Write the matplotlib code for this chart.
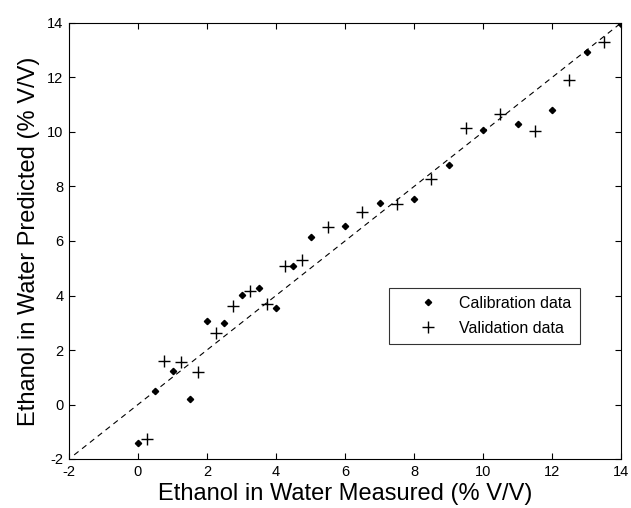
import matplotlib
matplotlib.use('Agg')
import matplotlib.pyplot as plt

# calibration set (measured, predicted)
cal_measured = [0, 0.5, 1, 1.5, 2, 2.5, 3, 3.5, 4, 4.5, 5, 6, 7, 8, 9, 10, 11, 12, 13, 14]
cal_predicted = [-1.42, 0.5, 1.22, 0.2, 3.05, 3.0, 4.02, 4.28, 3.55, 5.1, 6.15, 6.55, 7.4, 7.55,
                 8.8, 10.07, 10.3, 10.8, 12.93, 13.98]

# validation set
val_measured = [0.25, 0.75, 1.25, 1.75, 2.25, 2.75, 3.25, 3.75, 4.25, 4.75, 5.5, 6.5, 7.5,
                8.5, 9.5, 10.5, 11.5, 12.5, 13.5]
val_predicted = [-1.25, 1.6, 1.55, 1.2, 2.62, 3.6, 4.18, 3.68, 5.1, 5.3, 6.5, 7.06, 7.35,
                 8.28, 10.15, 10.67, 10.05, 11.92, 13.3]

# 1:1 line
line_x = [-1.85, 14]
line_y = [-1.85, 14]

ticks = [-2, 0, 2, 4, 6, 8, 10, 12, 14]

fam = ['Liberation Sans', 'DejaVu Sans']

fig = plt.figure(figsize=(6.31, 5.08), dpi=100)
ax = fig.add_axes([69 / 631, 49 / 508, 552 / 631, 436 / 508])

ax.plot(line_x, line_y, color='black', linestyle=(0, (5, 4)), linewidth=0.8)
ax.plot(cal_measured, cal_predicted, linestyle='none', marker='D', markersize=3.2,
        color='black', label='Calibration data')
ax.plot(val_measured, val_predicted, linestyle='none', marker='+', markersize=9,
        markeredgewidth=1.0, color='black', label='Validation data')

ax.set_xlim(-2, 14)
ax.set_ylim(-2, 14)
ax.set_xticks(ticks)
ax.set_yticks(ticks)
ax.set_xticklabels([str(t) for t in ticks], family=fam, fontsize=10.5)
ax.set_yticklabels([str(t) for t in ticks], family=fam, fontsize=10.5)
ax.tick_params(direction='in', length=4.5, width=0.8, top=True, right=True, pad=4)
for s in ax.spines.values():
    s.set_linewidth(0.8)

ax.set_xlabel('Ethanol in Water Measured (% V/V)', family=fam, fontsize=17, labelpad=3)
ax.set_ylabel('Ethanol in Water Predicted (% V/V)', family=fam, fontsize=17, labelpad=5)

leg = ax.legend(loc='upper left', bbox_to_anchor=((389 - 69) / 552, (459 - 288) / 436),
                prop={'family': fam, 'size': 11.5}, frameon=True, fancybox=False,
                edgecolor='black', borderpad=0.5, handlelength=3.9, handletextpad=0.0,
                labelspacing=0.6, borderaxespad=0)
leg.get_frame().set_linewidth(0.8)

fig.savefig('out.png', dpi=100)
